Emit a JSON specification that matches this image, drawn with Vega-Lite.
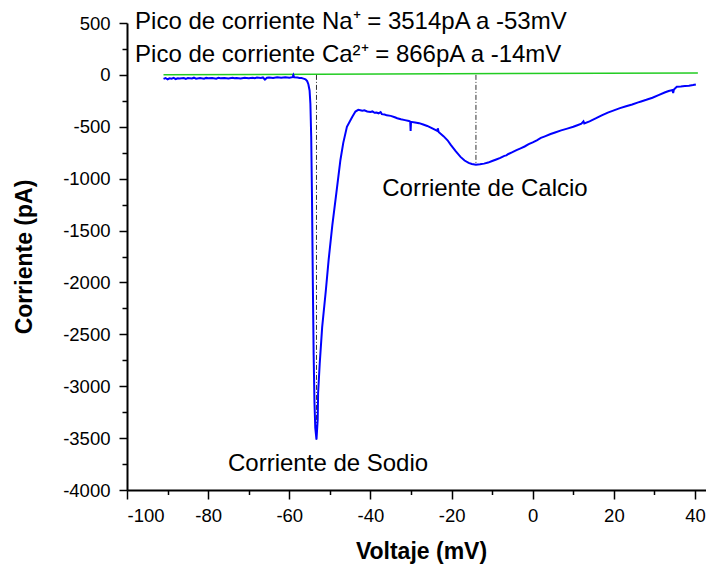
{
  "$schema": "https://vega.github.io/schema/vega-lite/v6.json",
  "width": 579,
  "height": 467,
  "autosize": {"type": "none"},
  "padding": {"left": 127, "top": 23, "right": 0, "bottom": 75},
  "background": "#ffffff",
  "config": {
    "view": {"stroke": null},
    "font": "Liberation Sans",
    "axis": {
      "grid": false,
      "domainColor": "#000000",
      "domainWidth": 2,
      "tickColor": "#000000",
      "tickWidth": 1.5,
      "labelColor": "#000000",
      "titleColor": "#000000",
      "labelFont": "Liberation Sans",
      "titleFont": "Liberation Sans",
      "labelFontSize": 18.5,
      "titleFontSize": 23,
      "titleFontWeight": "bold"
    }
  },
  "datasets": {
    "trace": [
      {"v": -91.0, "i": -38}, {"v": -90.5, "i": -30}, {"v": -90.0, "i": -42}, {"v": -89.5, "i": -33},
      {"v": -89.0, "i": -36}, {"v": -88.5, "i": -28}, {"v": -88.0, "i": -40}, {"v": -87.5, "i": -32},
      {"v": -87.0, "i": -35}, {"v": -86.0, "i": -30}, {"v": -85.5, "i": -38}, {"v": -85.0, "i": -31},
      {"v": -84.0, "i": -34}, {"v": -83.5, "i": -27}, {"v": -83.0, "i": -36}, {"v": -82.0, "i": -30},
      {"v": -81.0, "i": -37}, {"v": -80.5, "i": -29}, {"v": -80.0, "i": -33}, {"v": -79.0, "i": -31},
      {"v": -78.0, "i": -36}, {"v": -77.5, "i": -28}, {"v": -77.0, "i": -33}, {"v": -76.0, "i": -30},
      {"v": -75.0, "i": -35}, {"v": -74.0, "i": -27}, {"v": -73.5, "i": -33}, {"v": -73.0, "i": -29},
      {"v": -72.0, "i": -34}, {"v": -71.0, "i": -28}, {"v": -70.0, "i": -32}, {"v": -69.0, "i": -27},
      {"v": -68.5, "i": -31}, {"v": -68.0, "i": -26}, {"v": -67.0, "i": -30}, {"v": -66.5, "i": -25},
      {"v": -66.0, "i": -45}, {"v": -65.5, "i": -28}, {"v": -65.0, "i": -26}, {"v": -64.0, "i": -30},
      {"v": -63.0, "i": -24}, {"v": -62.0, "i": -28}, {"v": -61.0, "i": -23}, {"v": -60.0, "i": -27},
      {"v": -59.2, "i": -22}, {"v": -59.0, "i": -2}, {"v": -58.8, "i": -24}, {"v": -58.0, "i": -26},
      {"v": -57.5, "i": -29}, {"v": -57.0, "i": -31}, {"v": -56.5, "i": -36}, {"v": -56.0, "i": -42},
      {"v": -55.6, "i": -60}, {"v": -55.3, "i": -90}, {"v": -55.0, "i": -150}, {"v": -54.8, "i": -280},
      {"v": -54.6, "i": -600}, {"v": -54.4, "i": -1200}, {"v": -54.2, "i": -2000}, {"v": -54.0, "i": -2700},
      {"v": -53.8, "i": -3150}, {"v": -53.6, "i": -3400}, {"v": -53.3, "i": -3514}, {"v": -53.0, "i": -3320},
      {"v": -52.9, "i": -3065}, {"v": -52.5, "i": -2780}, {"v": -51.9, "i": -2430}, {"v": -51.0, "i": -2080},
      {"v": -50.3, "i": -1780}, {"v": -49.4, "i": -1450}, {"v": -48.4, "i": -1137}, {"v": -47.4, "i": -820},
      {"v": -46.7, "i": -655}, {"v": -45.8, "i": -500}, {"v": -44.5, "i": -405}, {"v": -43.7, "i": -353},
      {"v": -43.0, "i": -337}, {"v": -42.5, "i": -340}, {"v": -42.0, "i": -345}, {"v": -41.5, "i": -342},
      {"v": -40.8, "i": -353}, {"v": -40.0, "i": -358}, {"v": -39.5, "i": -352}, {"v": -39.0, "i": -365},
      {"v": -38.5, "i": -362}, {"v": -38.0, "i": -370}, {"v": -37.5, "i": -358}, {"v": -37.2, "i": -378},
      {"v": -36.5, "i": -382}, {"v": -36.0, "i": -390}, {"v": -35.0, "i": -395}, {"v": -34.0, "i": -408},
      {"v": -33.4, "i": -418}, {"v": -32.5, "i": -428}, {"v": -31.5, "i": -436}, {"v": -30.5, "i": -445},
      {"v": -30.2, "i": -450}, {"v": -30.1, "i": -540}, {"v": -30.0, "i": -452}, {"v": -29.0, "i": -458},
      {"v": -28.0, "i": -465}, {"v": -27.0, "i": -478}, {"v": -26.0, "i": -492}, {"v": -25.0, "i": -510},
      {"v": -24.0, "i": -530}, {"v": -23.5, "i": -540}, {"v": -23.4, "i": -515}, {"v": -23.2, "i": -550},
      {"v": -22.0, "i": -590}, {"v": -21.0, "i": -630}, {"v": -20.2, "i": -675}, {"v": -19.0, "i": -735},
      {"v": -17.8, "i": -790}, {"v": -16.8, "i": -825}, {"v": -15.8, "i": -848}, {"v": -15.0, "i": -858},
      {"v": -14.0, "i": -866}, {"v": -13.0, "i": -862}, {"v": -12.0, "i": -855}, {"v": -11.0, "i": -845},
      {"v": -10.0, "i": -830}, {"v": -9.0, "i": -815}, {"v": -8.0, "i": -800}, {"v": -7.0, "i": -780},
      {"v": -6.5, "i": -776}, {"v": -6.0, "i": -762}, {"v": -5.0, "i": -745}, {"v": -4.0, "i": -725},
      {"v": -3.0, "i": -708}, {"v": -2.0, "i": -690}, {"v": -1.0, "i": -668}, {"v": 0.0, "i": -650},
      {"v": 1.0, "i": -630}, {"v": 2.0, "i": -607}, {"v": 3.0, "i": -592}, {"v": 4.4, "i": -570},
      {"v": 5.5, "i": -555}, {"v": 7.0, "i": -535}, {"v": 8.5, "i": -518}, {"v": 10.0, "i": -500},
      {"v": 11.0, "i": -485}, {"v": 12.0, "i": -470}, {"v": 12.5, "i": -448}, {"v": 12.7, "i": -468},
      {"v": 14.0, "i": -448}, {"v": 15.5, "i": -420}, {"v": 17.0, "i": -390}, {"v": 18.5, "i": -363},
      {"v": 20.0, "i": -342}, {"v": 21.5, "i": -320}, {"v": 23.0, "i": -302}, {"v": 24.5, "i": -285},
      {"v": 26.0, "i": -265}, {"v": 26.7, "i": -256}, {"v": 28.0, "i": -240}, {"v": 29.5, "i": -220},
      {"v": 31.0, "i": -195}, {"v": 32.5, "i": -170}, {"v": 33.5, "i": -155}, {"v": 34.5, "i": -145},
      {"v": 34.6, "i": -175}, {"v": 34.8, "i": -140}, {"v": 35.5, "i": -115}, {"v": 36.5, "i": -112},
      {"v": 37.5, "i": -108}, {"v": 38.5, "i": -104}, {"v": 39.5, "i": -98}, {"v": 40.2, "i": -92}
    ],
    "leak": [
      {"v": -91.0, "i": 2},
      {"v": 40.7, "i": 18}
    ],
    "peaks": [
      {"v": -53.3, "top": 0, "i": -3514},
      {"v": -14.0, "top": 0, "i": -866}
    ],
    "notes": [
      {"v": -98.0, "i": 440, "label": "Pico de corriente Na⁺ = 3514pA a -53mV"},
      {"v": -98.0, "i": 128, "label": "Pico de corriente Ca²⁺ = 866pA a -14mV"},
      {"v": -75.1, "i": -3814, "label": "Corriente de Sodio"},
      {"v": -37.1, "i": -1166, "label": "Corriente de Calcio"}
    ]
  },
  "layer": [
    {
      "mark": {"type": "rule", "color": "#000000", "strokeWidth": 2},
      "encoding": {"y": {"datum": 0, "type": "quantitative", "scale": {"domain": [-4000, 500], "nice": false, "zero": false}, "axis": null}}
    },
    {
      "mark": {"type": "rule", "color": "#000000", "strokeWidth": 2},
      "encoding": {"x": {"datum": 0, "type": "quantitative", "scale": {"domain": [-100, 42.7], "nice": false, "zero": false}, "axis": null}}
    },
    {
      "data": {"name": "leak"},
      "mark": {"type": "line", "color": "#22cc22", "strokeWidth": 1.5},
      "encoding": {
        "x": {
          "field": "v", "type": "quantitative",
          "axis": {"orient": "bottom", "values": [-90, -70, -50, -30, -10, 10, 30], "labels": false, "domain": false, "tickSize": 4.5, "title": null}
        },
        "y": {
          "field": "i", "type": "quantitative",
          "axis": {"orient": "left", "values": [-3750, -3250, -2750, -2250, -1750, -1250, -750, -250, 250], "labels": false, "domain": false, "tickSize": 5, "title": null}
        }
      }
    },
    {
      "data": {"name": "peaks"},
      "mark": {"type": "rule", "color": "#333333", "strokeWidth": 1, "strokeDash": [5, 2, 1, 2]},
      "encoding": {
        "x": {"field": "v", "type": "quantitative", "axis": null},
        "y": {"field": "top", "type": "quantitative", "axis": null},
        "y2": {"field": "i"}
      }
    },
    {
      "data": {"name": "trace"},
      "mark": {"type": "line", "color": "#0000ff", "strokeWidth": 2, "interpolate": "linear"},
      "encoding": {
        "x": {
          "field": "v", "type": "quantitative",
          "axis": {
            "orient": "bottom",
            "title": "Voltaje (mV)",
            "values": [-100, -80, -60, -40, -20, 0, 20, 40],
            "labelExpr": "'' + datum.value",
            "tickSize": 9,
            "labelPadding": 7,
            "titleX": 294,
            "titleY": 68,
            "titleBaseline": "alphabetic",
            "titleAlign": "center"
          }
        },
        "y": {
          "field": "i", "type": "quantitative",
          "axis": {
            "orient": "left",
            "title": "Corriente (pA)",
            "values": [-4000, -3500, -3000, -2500, -2000, -1500, -1000, -500, 0, 500],
            "labelExpr": "'' + datum.value",
            "tickSize": 8,
            "labelPadding": 9,
            "titleAngle": 270,
            "titleX": -96,
            "titleY": 233.5,
            "titleBaseline": "alphabetic",
            "titleAlign": "center"
          }
        }
      }
    },
    {
      "data": {"name": "notes"},
      "mark": {"type": "text", "align": "left", "baseline": "alphabetic", "fontSize": 24, "font": "Liberation Sans", "color": "#000000"},
      "encoding": {
        "x": {"field": "v", "type": "quantitative", "axis": null},
        "y": {"field": "i", "type": "quantitative", "axis": null},
        "text": {"field": "label"}
      }
    }
  ],
  "resolve": {"axis": {"x": "independent", "y": "independent"}}
}
